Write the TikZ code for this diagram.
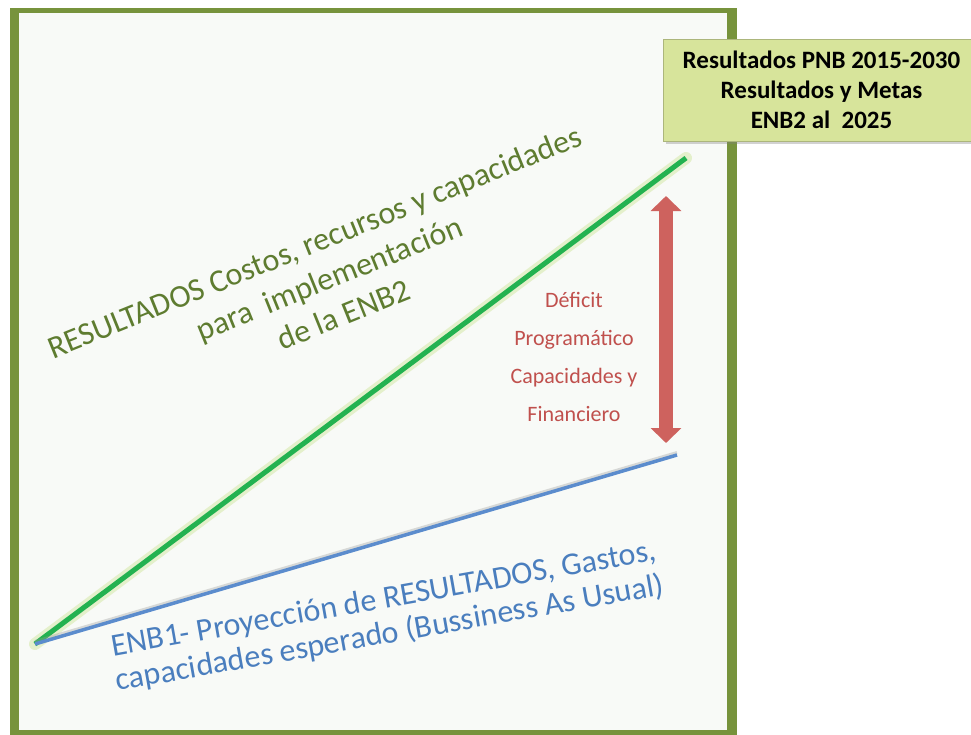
\documentclass[tikz,border=0pt]{standalone}
\usepackage{fontspec}
\setmainfont{Carlito}
\usetikzlibrary{arrows.meta,shadows}

\definecolor{framegreen}{RGB}{119,147,60}
\definecolor{paper}{RGB}{248,250,247}
\definecolor{goalfill}{RGB}{215,228,155}
\definecolor{enbgreen}{RGB}{35,178,80}
\definecolor{glowgreen}{RGB}{205,228,150}
\definecolor{enbblue}{RGB}{91,140,205}
\definecolor{textgreen}{RGB}{94,124,48}
\definecolor{textblue}{RGB}{74,126,190}
\definecolor{gapred}{RGB}{206,98,94}
\definecolor{textred}{RGB}{192,80,77}

\tikzset{
  goal_box/.style={fill=goalfill, draw=goalfill!80!black, line width=0.6pt,
     minimum width=317pt, minimum height=102pt, align=center, inner sep=0pt,
     drop shadow={shadow xshift=3pt, shadow yshift=-3pt, opacity=0.35},
     font=\bfseries\fontsize{25}{30}\selectfont},
  trend_text/.style={align=center, inner sep=0pt},
  gap_arrow/.style={gapred, line width=14pt,
     {Triangle[width=30pt,length=15pt]}-{Triangle[width=30pt,length=15pt]}}
}

\begin{document}
\begin{tikzpicture}[x=1pt,y=-1pt]
  \useasboundingbox (0,0) rectangle (971,734);
  \clip (0,0) rectangle (971,734);
  \fill[white] (0,0) rectangle (971,734);
  % frame
  \fill[framegreen] (10,8) rectangle (737,740);
  \fill[paper] (19,13) rectangle (727,730);

  \coordinate (start) at (35,644);
  \coordinate (enb2) at (686,158);
  \coordinate (enb1) at (677,455);
  \coordinate (gaptop) at (666,196);
  \coordinate (gapbot) at (666,443);

  % lines
  \draw[glowgreen, opacity=0.45, line width=12pt, line cap=round] (start) -- (enb2);
  \draw[enbgreen, line width=5pt] (start) -- (enb2);
  \draw[black!40, opacity=0.35, line width=3pt] ([yshift=2.5pt]start) -- ([yshift=2.5pt]enb1);
  \draw[enbblue, line width=3.5pt] (start) -- (enb1);
  \draw[gap_arrow] (gaptop) -- (gapbot);

  \node[goal_box] (goal) at (821.5,90) {Resultados PNB 2015-2030\\Resultados y Metas\\ENB2 al~~2025};

  \node[trend_text, textgreen, rotate=22, font=\fontsize{32}{39}\selectfont] (enb2text) at (329,278)
     {RESULTADOS Costos, recursos y capacidades\\para~~implementación\\de la ENB2};
  \node[trend_text, textblue, rotate=10, font=\fontsize{32}{35}\selectfont] (enb1text) at (387,617)
     {ENB1- Proyección de RESULTADOS, Gastos,\\capacidades esperado (Bussiness As Usual)};
  \node[trend_text, textred, font=\fontsize{22}{38}\selectfont] (gaptext) at (574,357)
     {Déficit\\Programático\\Capacidades y\\Financiero};
\end{tikzpicture}
\end{document}
